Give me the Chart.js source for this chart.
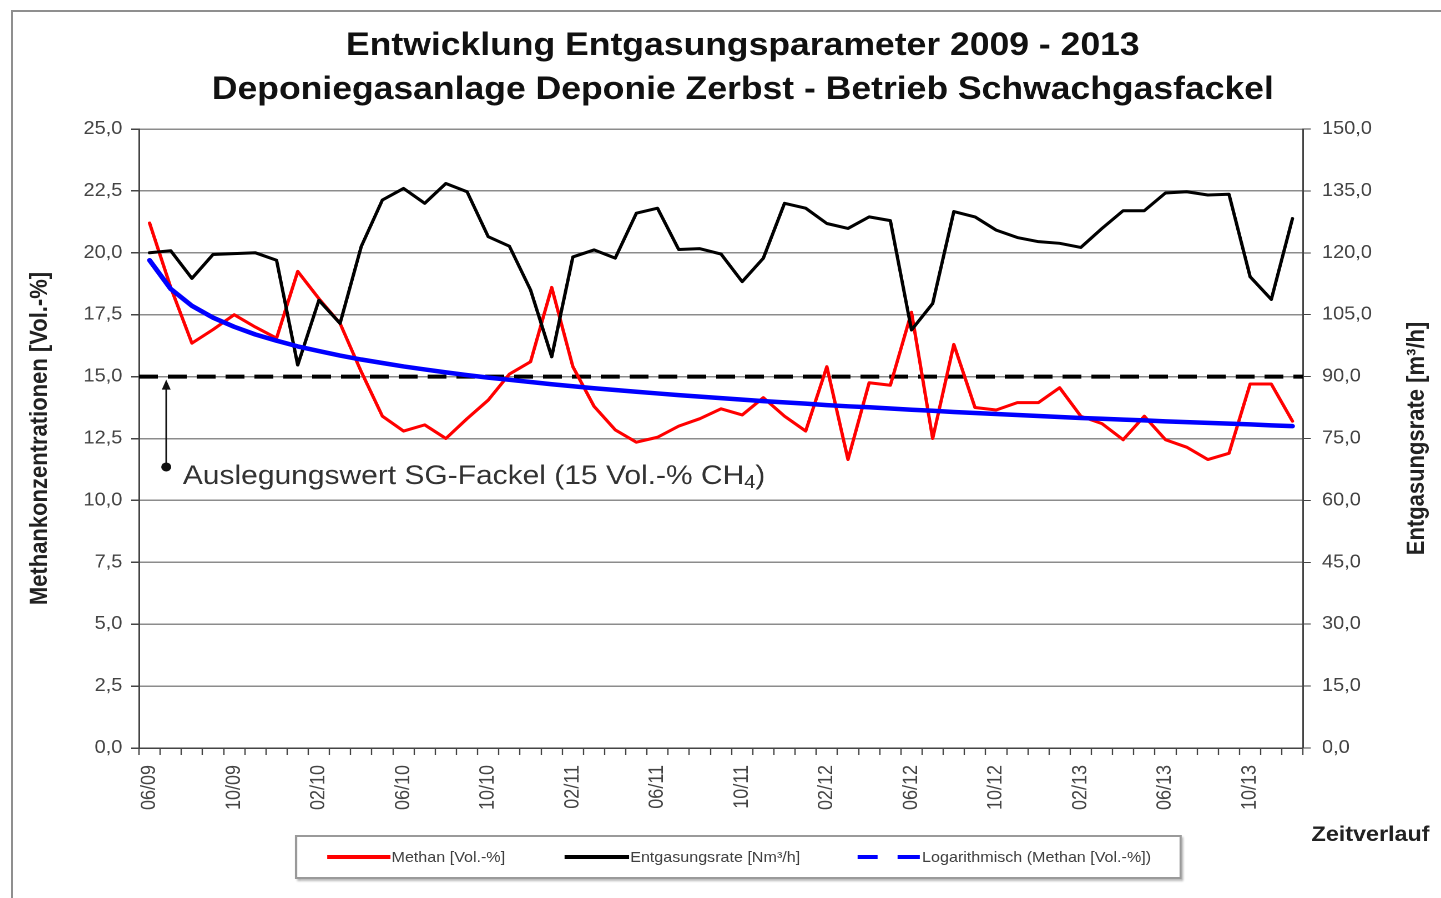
<!DOCTYPE html>
<html>
<head>
<meta charset="utf-8">
<script src="https://cdn.jsdelivr.net/npm/chart.js@4/dist/chart.umd.min.js"></script>
<style>
  html, body { margin: 0; padding: 0; background: #fff; overflow: hidden; width: 1441px; height: 898px; }
  #frame { position: absolute; left: 11px; top: 10px; width: 1500px; height: 1000px; border: 2px solid #8f8f8f; }
  #wrap { position: absolute; left: 13px; top: 12px; width: 1315px; height: 900px; transform: scaleX(1.11); transform-origin: 0 0; }
  #legend { position: absolute; left: 254px; top: 823px; width: 795px; height: 40px; border: 2px solid #9a9a9a; box-shadow: 2px 2px 2px #b5b5b5; background: #fff; font: 14.5px "Liberation Sans", Arial, sans-serif; color: #404040; }
  .item { position: absolute; top: 11px; height: 18px; line-height: 18px; white-space: nowrap; }
  .swatch { position: absolute; top: 18px; height: 4px; }
</style>
</head>
<body>
<div id="frame"></div>
<div id="wrap">
  <canvas id="chart"></canvas>
  <div id="legend">
    <div class="swatch" style="left:27px;width:57px;background:#ff0000"></div>
    <div class="item" style="left:85px">Methan [Vol.-%]</div>
    <div class="swatch" style="left:241px;width:58px;background:#000"></div>
    <div class="item" style="left:300px">Entgasungsrate [Nm³/h]</div>
    <div class="swatch" style="left:505px;width:18px;background:#0000ff"></div>
    <div class="swatch" style="left:541px;width:20px;background:#0000ff"></div>
    <div class="item" style="left:563px">Logarithmisch (Methan [Vol.-%])</div>
  </div>
</div>
<script>
// ---------- Monate (06/09 - 12/13) ----------
const monate = [
  "06/09", "07/09", "08/09", "09/09", "10/09", "11/09", "12/09",
  "01/10", "02/10", "03/10", "04/10", "05/10", "06/10", "07/10", "08/10", "09/10", "10/10", "11/10", "12/10",
  "01/11", "02/11", "03/11", "04/11", "05/11", "06/11", "07/11", "08/11", "09/11", "10/11", "11/11", "12/11",
  "01/12", "02/12", "03/12", "04/12", "05/12", "06/12", "07/12", "08/12", "09/12", "10/12", "11/12", "12/12",
  "01/13", "02/13", "03/13", "04/13", "05/13", "06/13", "07/13", "08/13", "09/13", "10/13", "11/13", "12/13"
];

// Methan [Vol.-%] (linke Achse)
const methan = [
  21.2, 18.6, 16.35, 16.9, 17.5, 17.0, 16.55, 19.25, 18.15, 17.15,
  15.2, 13.4, 12.8, 13.05, 12.5, 13.3, 14.05, 15.1, 15.6, 18.6,
  15.4, 13.8, 12.85, 12.35, 12.55, 13.0, 13.3, 13.7, 13.45, 14.15,
  13.4, 12.8, 15.4, 11.65, 14.75, 14.65, 17.6, 12.5, 16.3, 13.75,
  13.65, 13.95, 13.95, 14.55, 13.4, 13.1, 12.45, 13.4, 12.45, 12.15,
  11.65, 11.9, 14.7, 14.7, 13.2
];

// Entgasungsrate [Nm³/h] (rechte Achse)
const entgasung = [
  120.0, 120.5, 113.8, 119.6, 119.8, 120.0, 118.2, 92.8, 108.5, 102.9,
  121.5, 132.8, 135.6, 132.0, 136.8, 134.8, 123.9, 121.6, 111.0, 94.8,
  119.0, 120.7, 118.7, 129.6, 130.8, 120.8, 121.0, 119.7, 113.0, 118.7,
  132.0, 130.8, 127.1, 125.9, 128.7, 127.8, 101.3, 107.7, 130.0, 128.7,
  125.5, 123.7, 122.7, 122.3, 121.3, 125.9, 130.2, 130.2, 134.5, 134.8,
  134.0, 134.2, 114.2, 108.7, 128.3
];

// Logarithmische Trendlinie
const trend = [
  19.70, 18.54, 17.86, 17.38, 17.01, 16.70, 16.45, 16.22, 16.03, 15.85,
  15.69, 15.55, 15.41, 15.29, 15.17, 15.06, 14.96, 14.87, 14.78, 14.69,
  14.61, 14.53, 14.46, 14.39, 14.32, 14.25, 14.19, 14.13, 14.07, 14.01,
  13.96, 13.91, 13.85, 13.80, 13.76, 13.71, 13.66, 13.62, 13.57, 13.53,
  13.49, 13.45, 13.41, 13.37, 13.33, 13.30, 13.26, 13.23, 13.19, 13.16,
  13.13, 13.10, 13.07, 13.03, 13.00
];

const auslegungswert = 15;
const pfeilEnde = 11.35;

const FONT = '"Liberation Sans", Arial, sans-serif';
const komma = v => Number(v).toFixed(1).replace(".", ",");

// ---------- Zusatz: Grenzlinie, Pfeil, Texte ----------
const extras = {
  id: "extras",
  beforeDatasetsDraw(chart) {
    const { ctx, chartArea, scales } = chart;
    const y = scales.y.getPixelForValue(auslegungswert);
    ctx.save();
    ctx.strokeStyle = "#000";
    ctx.lineWidth = 4;
    ctx.setLineDash([17, 9]);
    ctx.beginPath();
    ctx.moveTo(chartArea.left, y);
    ctx.lineTo(chartArea.right, y);
    ctx.stroke();
    ctx.restore();
  },
  afterDatasetsDraw(chart) {
    const { ctx, chartArea, scales } = chart;
    const x = scales.x.getPixelForValue(0) + 15;
    const yTop = scales.y.getPixelForValue(auslegungswert) + 3;
    const yBot = scales.y.getPixelForValue(pfeilEnde);
    ctx.save();
    // Pfeil
    ctx.strokeStyle = "#111";
    ctx.fillStyle = "#111";
    ctx.lineWidth = 1.5;
    ctx.beginPath();
    ctx.moveTo(x, yBot);
    ctx.lineTo(x, yTop + 8);
    ctx.stroke();
    ctx.beginPath();
    ctx.moveTo(x, yTop);
    ctx.lineTo(x - 4, yTop + 10);
    ctx.lineTo(x + 4, yTop + 10);
    ctx.closePath();
    ctx.fill();
    ctx.beginPath();
    ctx.arc(x, yBot, 4.5, 0, Math.PI * 2);
    ctx.fill();

    // Beschriftung
    ctx.fillStyle = "#333";
    ctx.textBaseline = "alphabetic";
    ctx.textAlign = "left";
    ctx.font = "27px " + FONT;
    let tx = x + 15;
    const ty = yBot + 17;
    const t1 = "Auslegungswert SG-Fackel (15 Vol.-% CH";
    ctx.fillText(t1, tx, ty);
    tx += ctx.measureText(t1).width;
    ctx.font = "18px " + FONT;
    ctx.fillText("4", tx, ty + 4);
    tx += ctx.measureText("4").width;
    ctx.font = "27px " + FONT;
    ctx.fillText(")", tx, ty);

    // rechte Achsenbeschriftung
    ctx.fillStyle = "#222";
    ctx.font = "bold 22px " + FONT;
    ctx.textAlign = "center";
    ctx.textBaseline = "middle";
    ctx.translate(1265, (chartArea.top + chartArea.bottom) / 2);
    ctx.rotate(-Math.PI / 2);
    ctx.fillText("Entgasungsrate [m³/h]", 0, 0);
    ctx.restore();

    // Zeitverlauf
    ctx.save();
    ctx.fillStyle = "#222";
    ctx.font = "bold 21px " + FONT;
    ctx.textAlign = "center";
    ctx.textBaseline = "middle";
    ctx.fillText("Zeitverlauf", 1223, 823);
    ctx.restore();
  }
};

const achse = { color: "#444", width: 1.5 };
const tickFont = { family: FONT, size: 18 };

new Chart(document.getElementById("chart"), {
  type: "line",
  data: {
    labels: monate,
    datasets: [{
      label: "Methan [Vol.-%]",
      data: methan,
      yAxisID: "y",
      borderColor: "#ff0000",
      borderWidth: 3,
      order: 2
    },
    {
      label: "Entgasungsrate [Nm³/h]",
      data: entgasung,
      yAxisID: "y2",
      borderColor: "#000000",
      borderWidth: 3,
      order: 1
    },
    {
      label: "Logarithmisch (Methan [Vol.-%])",
      data: trend,
      yAxisID: "y",
      borderColor: "#0000ff",
      borderWidth: 4.5,
      order: 0
    }]
  },
  options: {
    responsive: true,
    maintainAspectRatio: false,
    animation: false,
    devicePixelRatio: 2,
    layout: { padding: 0 },
    elements: {
      point: { radius: 0, hoverRadius: 0 },
      line: { tension: 0, borderJoinStyle: "round", borderCapStyle: "round" }
    },
    plugins: {
      legend: { display: false },
      tooltip: { enabled: false },
      title: {
        display: true,
        text: ["Entwicklung Entgasungsparameter 2009 - 2013",
               "Deponiegasanlage Deponie Zerbst - Betrieb Schwachgasfackel"],
        color: "#111",
        font: { family: FONT, size: 32, weight: "bold", lineHeight: "44px" },
        padding: { top: 12, bottom: 17 }
      }
    },
    scales: {
      x: {
        type: "category",
        offset: true,
        border: achse,
        grid: { offset: true, drawOnChartArea: false, tickLength: 7, tickColor: "#444", tickWidth: 1.2 },
        ticks: {
          autoSkip: false,
          maxRotation: 90,
          minRotation: 90,
          padding: 10,
          color: "#444",
          font: tickFont,
          callback(v, i) { return i % 4 === 0 ? this.getLabelForValue(v) : ""; }
        },
        afterFit(s) { s.height = 164; }
      },
      y: {
        position: "left",
        min: 0,
        max: 25,
        border: achse,
        grid: { color: "#8c8c8c", lineWidth: 1.5, tickLength: 7, tickColor: "#444" },
        ticks: { stepSize: 2.5, padding: 8, color: "#444", font: tickFont, callback: komma },
        title: {
          display: true,
          text: "Methankonzentrationen [Vol.-%]",
          color: "#222",
          font: { family: FONT, size: 22, weight: "bold" },
          padding: { top: 11, bottom: 0 }
        },
        afterFit(s) { s.width = 113.5; }
      },
      y2: {
        position: "right",
        min: 0,
        max: 150,
        border: achse,
        grid: { drawOnChartArea: false, tickLength: 7, tickColor: "#444" },
        ticks: { stepSize: 15, padding: 10, color: "#444", font: tickFont, callback: komma },
        afterFit(s) { s.width = 152.8; }
      }
    }
  },
  plugins: [extras]
});
</script>
</body>
</html>
